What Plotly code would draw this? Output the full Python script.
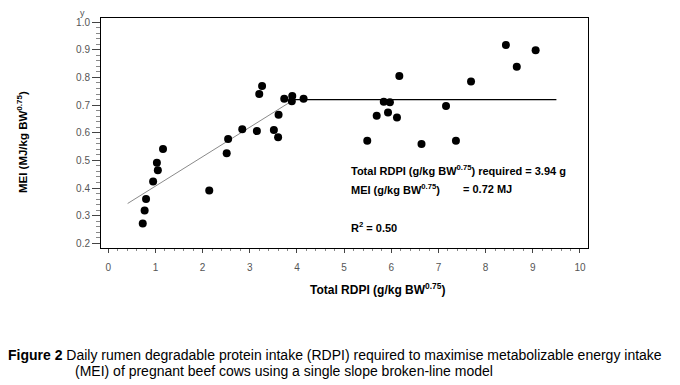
import plotly.graph_objects as go

# Data
rdpi = [0.73, 0.77, 0.80, 0.95, 1.03, 1.05, 1.16, 2.14, 2.51, 2.54, 2.84, 3.15,
        3.20, 3.26, 3.51, 3.60, 3.61, 3.73, 3.89, 3.90, 4.14,
        5.49, 5.69, 5.84, 5.93, 5.97, 6.12, 6.17, 6.64, 7.16, 7.37, 7.69,
        8.43, 8.66, 9.06]
mei = [0.272, 0.319, 0.360, 0.424, 0.491, 0.464, 0.541, 0.391, 0.526, 0.577, 0.613, 0.606,
       0.740, 0.769, 0.610, 0.584, 0.665, 0.723, 0.714, 0.733, 0.723,
       0.571, 0.661, 0.712, 0.673, 0.710, 0.655, 0.805, 0.559, 0.697, 0.571, 0.785,
       0.917, 0.839, 0.898]

# Broken-line model
fit_start_x = 0.41
fit_start_y = 0.344
break_x = 3.94
plateau = 0.72
plateau_end_x = 9.5

x_ticks = [0, 1, 2, 3, 4, 5, 6, 7, 8, 9, 10]
y_ticks = [0.2, 0.3, 0.4, 0.5, 0.6, 0.7, 0.8, 0.9, 1.0]
y_tick_text = ["0.2", "0.3", "0.4", "0.5", "0.6", "0.7", "0.8", "0.9", "1.0"]

fig = go.Figure()
fig.add_trace(go.Scatter(x=[fit_start_x, break_x], y=[fit_start_y, plateau], mode="lines",
                         line=dict(color="#8a8a8a", width=1), showlegend=False))
fig.add_trace(go.Scatter(x=[break_x, plateau_end_x], y=[plateau, plateau], mode="lines",
                         line=dict(color="black", width=1.2), showlegend=False))
fig.add_trace(go.Scatter(x=rdpi, y=mei, mode="markers",
                         marker=dict(color="black", size=8), showlegend=False))

tickfont = dict(family="Liberation Sans, Arial, sans-serif", size=10, color="#555555")
fig.update_xaxes(range=[-0.155, 10.17], tickvals=x_ticks, ticks="outside", ticklen=4,
                 tickcolor="#444", showline=True, linecolor="black", linewidth=1, mirror=True,
                 showgrid=False, zeroline=False, tickfont=tickfont, ticklabelstandoff=6,
                 minor=dict(dtick=0.2, ticks="outside", ticklen=2, tickcolor="#888"))
fig.update_yaxes(range=[0.183, 1.015], tickvals=y_ticks, ticktext=y_tick_text, ticks="outside",
                 ticklen=8, tickcolor="#444", showline=True, linecolor="black", linewidth=1,
                 mirror=True, showgrid=False, zeroline=False, tickfont=tickfont,
                 minor=dict(dtick=0.02, ticks="outside", ticklen=4, tickcolor="#888"))

bold = dict(family="Liberation Sans, Arial, sans-serif", size=11, color="black")
cap = dict(family="Liberation Sans, Arial, sans-serif", size=14, color="black")
caption_line1 = ("<b>Figure 2</b> Daily rumen degradable protein intake (RDPI) required to "
                 "maximise metabolizable energy intake")
caption_line2 = "(MEI) of pregnant beef cows using a single slope broken-line model"
ann = [
    dict(x=5.10, y=0.4635, xref="x", yref="y", xanchor="left", yanchor="middle",
         text="<b>Total RDPI (g/kg BW<sup>0.75</sup>) required = 3.94 g</b>", showarrow=False, font=bold),
    dict(x=5.10, y=0.396, xref="x", yref="y", xanchor="left", yanchor="middle",
         text="<b>MEI (g/kg BW<sup>0.75</sup>)</b>", showarrow=False, font=bold),
    dict(x=7.47, y=0.396, xref="x", yref="y", xanchor="left", yanchor="middle",
         text="<b>= 0.72 MJ</b>", showarrow=False, font=bold),
    dict(x=5.10, y=0.259, xref="x", yref="y", xanchor="left", yanchor="middle",
         text="<b>R<sup>2</sup> = 0.50</b>", showarrow=False, font=bold),
    dict(x=0.567, y=-0.178, xref="paper", yref="paper", xanchor="center", yanchor="middle",
         text="<b>Total RDPI (g/kg BW<sup>0.75</sup>)</b>", showarrow=False,
         font=dict(family="Liberation Sans, Arial, sans-serif", size=12, color="black")),
    dict(x=-0.162, y=0.461, xref="paper", yref="paper", xanchor="center", yanchor="middle",
         text="<b>MEI (MJ/kg BW<sup>0.75</sup>)</b>", textangle=-90, showarrow=False,
         font=dict(family="Liberation Sans, Arial, sans-serif", size=11.5, color="black")),
    dict(x=-0.039, y=1.023, xref="paper", yref="paper", xanchor="center", yanchor="middle",
         text="y", showarrow=False, font=dict(family="Liberation Sans, Arial, sans-serif", size=9, color="#555")),
    dict(x=-0.195, y=-0.465, xref="paper", yref="paper", xanchor="left", yanchor="middle",
         text=caption_line1, showarrow=False, font=cap),
    dict(x=-0.0575, y=-0.535, xref="paper", yref="paper", xanchor="left", yanchor="middle",
         text=caption_line2, showarrow=False, font=cap),
]

# body of the page has an 8px default margin; compensate so the plot lands where the reference has it
fig.update_layout(width=680, height=385, margin=dict(l=93, r=100, t=10, b=145),
                  plot_bgcolor="white", paper_bgcolor="white", annotations=ann)
fig.write_html("out.html")
